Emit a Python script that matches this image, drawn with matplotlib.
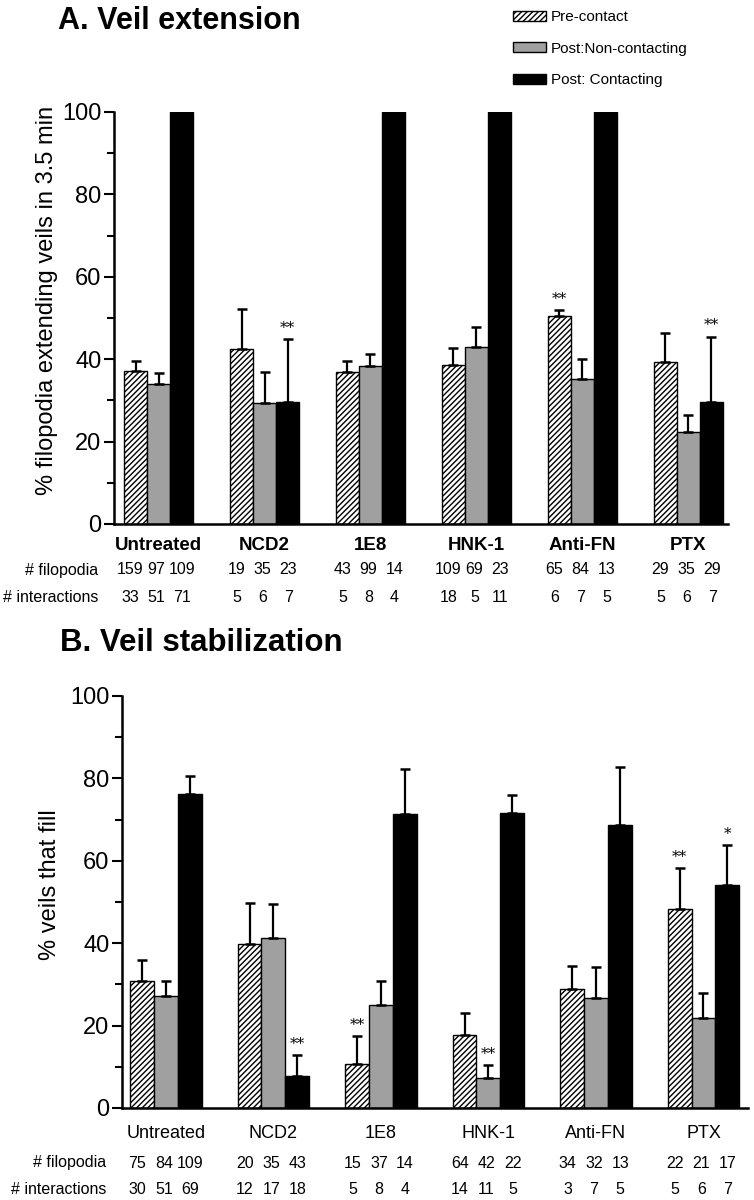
import numpy as np
import matplotlib
matplotlib.use('Agg')
import matplotlib.pyplot as plt
import matplotlib.transforms as mtransforms
from matplotlib import font_manager

groups = ['Untreated', 'NCD2', '1E8', 'HNK-1', 'Anti-FN', 'PTX']
series = ['Pre-contact', 'Post:Non-contacting', 'Post: Contacting']

# A. Veil extension (mean, upper error)
ext_pre = [37.2, 42.4, 36.8, 38.6, 50.5, 39.4]
ext_pre_err = [2.4, 9.8, 2.8, 4.2, 1.5, 7.0]
ext_non = [34.0, 29.3, 38.3, 43.0, 35.1, 22.4]
ext_non_err = [2.7, 7.6, 3.0, 4.8, 4.9, 4.1]
ext_con = [100, 29.5, 100, 100, 100, 29.5]
ext_con_err = [0, 15.3, 0, 0, 0, 16.0]
ext_filopodia = [[159, 97, 109], [19, 35, 23], [43, 99, 14], [109, 69, 23], [65, 84, 13], [29, 35, 29]]
ext_interactions = [[33, 51, 71], [5, 6, 7], [5, 8, 4], [18, 5, 11], [6, 7, 5], [5, 6, 7]]
ext_stars = [('NCD2', 2, '**'), ('Anti-FN', 0, '**'), ('PTX', 2, '**')]

# B. Veil stabilization
stab_pre = [30.9, 39.8, 10.6, 17.6, 28.8, 48.2]
stab_pre_err = [5.1, 10.0, 6.8, 5.5, 5.6, 10.0]
stab_non = [27.2, 41.3, 25.0, 7.3, 26.7, 21.8]
stab_non_err = [3.7, 8.1, 5.9, 3.2, 7.6, 6.2]
stab_con = [76.2, 7.8, 71.4, 71.6, 68.7, 54.1]
stab_con_err = [4.4, 5.0, 10.9, 4.4, 14.1, 9.7]
stab_filopodia = [[75, 84, 109], [20, 35, 43], [15, 37, 14], [64, 42, 22], [34, 32, 13], [22, 21, 17]]
stab_interactions = [[30, 51, 69], [12, 17, 18], [5, 8, 4], [14, 11, 5], [3, 7, 5], [5, 6, 7]]
stab_stars = [('NCD2', 2, '**'), ('1E8', 0, '**'), ('HNK-1', 1, '**'), ('PTX', 0, '**'), ('PTX', 2, '*')]

names = {f.name for f in font_manager.fontManager.ttflist}
narrow = 'Liberation Sans Narrow' if 'Liberation Sans Narrow' in names else 'Liberation Sans'
plt.rcParams['font.family'] = ['Liberation Sans', 'DejaVu Sans']
plt.rcParams['hatch.linewidth'] = 1.0

fig = plt.figure(figsize=(7.54, 12), dpi=100)


def panel(rect, xlim, width, data, errs, filo, inter, stars, bold_labels, label_size, label_pad, row_y, row_x):
    ax = fig.add_axes(rect)
    x = np.arange(len(groups))
    styles = [dict(color='white', hatch='//////'), dict(color='#a0a0a0'), dict(color='black')]
    bars = []
    for k in range(3):
        b = ax.bar(x + (k - 1) * width, data[k], width, edgecolor='black', linewidth=1.0, **styles[k])
        bars.append(b)
        err = np.array(errs[k], dtype=float)
        m = err > 0
        ax.errorbar((x + (k - 1) * width)[m], np.array(data[k])[m], yerr=[np.zeros(m.sum()), err[m]],
                    fmt='none', ecolor='black', elinewidth=1.6, capsize=3.8, capthick=1.8)
    for g, k, s in stars:
        i = groups.index(g)
        ax.annotate(s, (i + (k - 1) * width, data[k][i] + errs[k][i]), xytext=(0, 3),
                    textcoords='offset points', ha='center', va='bottom', fontsize=11, family='DejaVu Serif')
    ax.set_xlim(*xlim)
    ax.set_ylim(0, 100)
    ax.set_yticks(range(0, 101, 20))
    ax.set_yticks(range(10, 100, 20), minor=True)
    ax.tick_params(axis='y', which='major', length=7, width=1.5, labelsize=17, pad=2)
    ax.tick_params(axis='y', which='minor', length=5, width=1.5)
    ax.set_xticks(x)
    ax.set_xticklabels(groups, fontsize=label_size, family=narrow, fontweight='bold' if bold_labels else 'normal')
    ax.tick_params(axis='x', length=0, pad=label_pad)
    for s in ['top', 'right']:
        ax.spines[s].set_visible(False)
    for s in ['left', 'bottom']:
        ax.spines[s].set_linewidth(1.8)
    tr = mtransforms.blended_transform_factory(ax.transData, fig.transFigure)
    for rows, yy, lab in [(filo, row_y[0], '# filopodia'), (inter, row_y[1], '# interactions')]:
        fig.text(row_x, yy, lab, ha='right', va='center', fontsize=11.5, family=narrow)
        for i, trip in enumerate(rows):
            for k in range(3):
                ax.text(i + (k - 1) * 0.245 - 0.02, yy, str(trip[k]), transform=tr, ha='center', va='center',
                        fontsize=11.5, family=narrow)
    return ax, bars


axA, barsA = panel([114 / 754, 1 - 524 / 1200, 614 / 754, 412 / 1200], (-0.42, 5.373), 0.217,
                   [ext_pre, ext_non, ext_con], [ext_pre_err, ext_non_err, ext_con_err],
                   ext_filopodia, ext_interactions, ext_stars, True, 13.5, 9,
                   (1 - 570 / 1200, 1 - 597 / 1200), 98 / 754)
axB, barsB = panel([122 / 754, 1 - 1108 / 1200, 626 / 754, 412 / 1200], (-0.409, 5.414), 0.223,
                   [stab_pre, stab_non, stab_con], [stab_pre_err, stab_non_err, stab_con_err],
                   stab_filopodia, stab_interactions, stab_stars, False, 13, 12,
                   (1 - 1163 / 1200, 1 - 1190 / 1200), 106 / 754)

fig.text(58 / 754, 1 - 21 / 1200, 'A. Veil extension', fontsize=22, fontweight='bold', family=narrow,
         ha='left', va='center')
fig.text(60 / 754, 1 - 643 / 1200, 'B. Veil stabilization', fontsize=22.5, fontweight='bold', family=narrow,
         ha='left', va='center')
fig.text(47 / 754, 1 - 300 / 1200, '% filopodia extending veils in 3.5 min', rotation=90, fontsize=17,
         ha='center', va='center')
fig.text(50 / 754, 1 - 885 / 1200, '% veils that fill', rotation=90, fontsize=17, ha='center', va='center')

fig.legend([b[0] for b in barsA], series, loc='upper left', bbox_to_anchor=(513 / 754, 1 - 10 / 1200),
           frameon=False, prop={'family': narrow, 'size': 11}, handlelength=2.15, handleheight=0.65,
           handletextpad=0.35, labelspacing=1.15, borderpad=0, borderaxespad=0)

fig.savefig('out.png', dpi=100)
